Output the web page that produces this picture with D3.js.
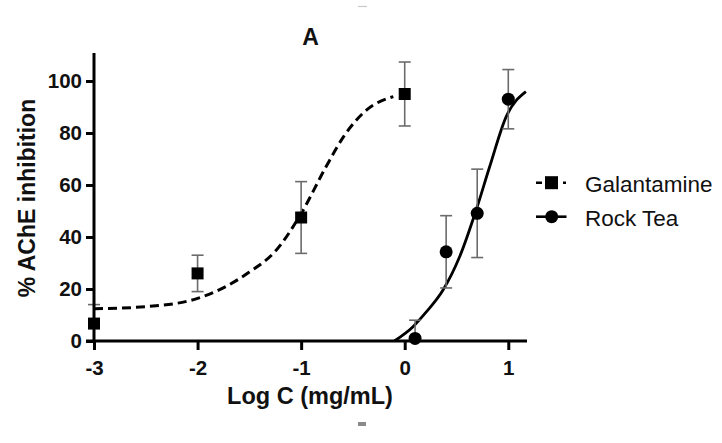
<!DOCTYPE html>
<html>
<head>
<meta charset="utf-8">
<script src="https://cdn.jsdelivr.net/npm/d3@7"></script>
<style>
  html, body { margin: 0; padding: 0; background: #fff; }
  svg { display: block; font-family: "Liberation Sans", Arial, Helvetica, sans-serif; }
</style>
</head>
<body>
<svg id="chart" width="722" height="443"></svg>
<script>
// ---- data ----
const galX = [-3, -2, -1, 0];
const galY = [6.7, 26, 47.5, 95];
const galErr = [7.3, 7, 13.8, 12.3];

const rockX = [0.1, 0.4, 0.7, 1.0];
const rockY = [1, 34.3, 49.1, 93];
const rockErr = [7, 13.9, 17, 11.4];

// fitted curves as drawn in the reference
const galCurveX = [-3, -2.5, -2, -1.5, -1.25, -1, -0.76, -0.59, -0.37, -0.11];
const galCurveY = [12.4, 13.2, 16.4, 26.5, 34.5, 49, 67, 78.6, 88.8, 94];
const rockCurveX = [-0.1, 0.08, 0.2, 0.37, 0.53, 0.69, 0.82, 0.98, 1.17];
const rockCurveY = [0, 5.5, 10.8, 19.6, 32.4, 50.4, 67, 86.3, 95.9];

const xTicks = [-3, -2, -1, 0, 1];
const yTicks = [0, 20, 40, 60, 80, 100];
const seriesNames = ["Galantamine", "Rock Tea"];

// ---- layout ----
const svg = d3.select("#chart");
const x = d3.scaleLinear().domain([-3, 1.2]).range([94, 529]);
const y = d3.scaleLinear().domain([0, 110]).range([341, 55]);

const AX = "#000";
const ERR = "#6b6b6b";

// title
svg.append("text").attr("x", 310.5).attr("y", 45)
  .attr("text-anchor", "middle").attr("font-size", 23).attr("font-weight", "bold")
  .attr("fill", "#111").text("A");

// axis titles
svg.append("text").attr("x", 310).attr("y", 404)
  .attr("text-anchor", "middle").attr("font-size", 23.5).attr("font-weight", "bold")
  .attr("fill", "#111").text("Log C (mg/mL)");
svg.append("text").attr("transform", "translate(35,198) rotate(-90)")
  .attr("text-anchor", "middle").attr("font-size", 23).attr("font-weight", "bold")
  .attr("fill", "#111").text("% AChE inhibition");

// curves
const line = d3.line().x(d => x(d[0])).y(d => y(d[1])).curve(d3.curveMonotoneX);
svg.append("path").datum(d3.zip(galCurveX, galCurveY))
  .attr("d", line).attr("fill", "none").attr("stroke", "#000")
  .attr("stroke-width", 3).attr("stroke-dasharray", "9,5");
svg.append("path").datum(d3.zip(rockCurveX, rockCurveY))
  .attr("d", line).attr("fill", "none").attr("stroke", "#000")
  .attr("stroke-width", 2.8);

// error bars
function errorBars(xs, ys, es) {
  const g = svg.append("g").attr("stroke", ERR).attr("stroke-width", 1.6).attr("fill", "none");
  xs.forEach((xv, i) => {
    const lo = Math.max(0, ys[i] - es[i]), hi = ys[i] + es[i];
    g.append("line").attr("x1", x(xv)).attr("x2", x(xv)).attr("y1", y(lo)).attr("y2", y(hi));
    g.append("line").attr("x1", x(xv) - 6).attr("x2", x(xv) + 6).attr("y1", y(hi)).attr("y2", y(hi));
    if (ys[i] - es[i] > 0.5)
      g.append("line").attr("x1", x(xv) - 6).attr("x2", x(xv) + 6).attr("y1", y(lo)).attr("y2", y(lo));
  });
}
errorBars(galX, galY, galErr);
errorBars(rockX, rockY, rockErr);

// axes
const yAxis = d3.axisLeft(y).tickValues(yTicks).tickSize(8).tickSizeOuter(0).tickPadding(4);
const xAxis = d3.axisBottom(x).tickValues(xTicks).tickSize(9).tickSizeOuter(0).tickPadding(10)
  .tickFormat(d => String(d));

const gy = svg.append("g").attr("transform", `translate(${x(-3)},0)`).call(yAxis);
const gx = svg.append("g").attr("transform", `translate(0,${y(0)})`).call(xAxis);
[gy, gx].forEach(g => {
  g.select(".domain").remove();
  g.selectAll(".tick line").attr("stroke", AX).attr("stroke-width", 3);
  g.selectAll(".tick text").attr("fill", "#111").attr("font-size", 20.5).attr("font-weight", "bold")
    .attr("font-family", "Liberation Sans, Arial, sans-serif");
});
// axis lines
svg.append("line").attr("x1", x(-3)).attr("x2", x(-3)).attr("y1", y(110) - 2).attr("y2", y(0) + 1.5)
  .attr("stroke", AX).attr("stroke-width", 3);
svg.append("line").attr("x1", x(-3) - 8).attr("x2", x(1.2) - 2).attr("y1", y(0)).attr("y2", y(0))
  .attr("stroke", AX).attr("stroke-width", 3);

// markers
svg.append("g").selectAll("rect").data(d3.zip(galX, galY)).join("rect")
  .attr("x", d => x(d[0]) - 6).attr("y", d => y(d[1]) - 6)
  .attr("width", 12).attr("height", 12).attr("fill", "#000");
svg.append("g").selectAll("circle").data(d3.zip(rockX, rockY)).join("circle")
  .attr("cx", d => x(d[0])).attr("cy", d => y(d[1])).attr("r", 6.5).attr("fill", "#000");

// legend
const lg = svg.append("g");
const legY = [182.7, 216.7];
// Galantamine symbol
lg.append("line").attr("x1", 536).attr("x2", 566).attr("y1", legY[0]).attr("y2", legY[0])
  .attr("stroke", "#000").attr("stroke-width", 2.6)
  .attr("stroke-dasharray", "6,21,3,100");
lg.append("rect").attr("x", 545).attr("y", legY[0] - 6.5).attr("width", 13).attr("height", 13).attr("fill", "#000");
// Rock Tea symbol
lg.append("line").attr("x1", 536).attr("x2", 566.5).attr("y1", legY[1]).attr("y2", legY[1])
  .attr("stroke", "#000").attr("stroke-width", 2.6);
lg.append("circle").attr("cx", 551.7).attr("cy", legY[1]).attr("r", 6.5).attr("fill", "#000");
seriesNames.forEach((n, i) => {
  lg.append("text").attr("x", 585).attr("y", legY[i] + 9).attr("font-size", 22.5)
    .attr("fill", "#111").text(n);
});

// small stray grey marks present in the reference image
svg.append("line").attr("x1", 358).attr("x2", 367).attr("y1", 6.5).attr("y2", 6.5)
  .attr("stroke", "#c8c8c8").attr("stroke-width", 1.2);
svg.append("rect").attr("x", 358).attr("y", 422).attr("width", 8).attr("height", 4).attr("fill", "#8a8a8a");
</script>
</body>
</html>
